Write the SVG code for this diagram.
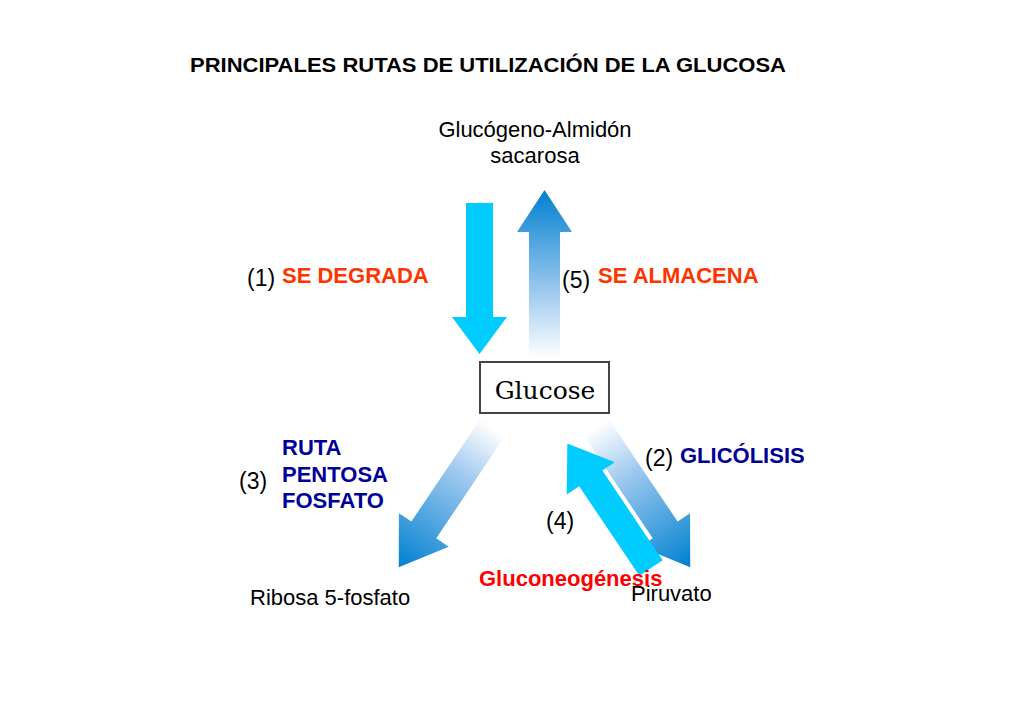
<svg xmlns="http://www.w3.org/2000/svg" width="1024" height="724" viewBox="0 0 1024 724">
<style>
text{font-family:"Liberation Sans",Arial,sans-serif;font-size:22px}
.p{font-size:23px}
.b{font-weight:bold}.r{fill:#ff3300}.db{fill:#000099}
</style>
<defs>
<linearGradient id="gd" x1="0" y1="0" x2="1" y2="0"><stop offset="0" stop-color="#ffffff"/><stop offset="0.35" stop-color="#9cc8ee"/><stop offset="1" stop-color="#0080d0"/></linearGradient>
<linearGradient id="gu" x1="0" y1="1" x2="0" y2="0"><stop offset="0" stop-color="#ffffff"/><stop offset="0.4" stop-color="#9cc8ee"/><stop offset="1" stop-color="#0080d0"/></linearGradient>
</defs>
<rect width="1024" height="724" fill="#fff"/>
<text x="190" y="72" class="b" textLength="596" lengthAdjust="spacingAndGlyphs" style="font-size:21px">PRINCIPALES RUTAS DE UTILIZACIÓN DE LA GLUCOSA</text>
<g id="glucogeno"><text x="535" y="137" text-anchor="middle">Glucógeno-Almidón</text><text x="535" y="163" text-anchor="middle">sacarosa</text></g>
<g id="glucose"><rect x="480" y="362" width="129" height="51" fill="#fff" stroke="#444" stroke-width="2"/><text x="545" y="399" text-anchor="middle" style="font-family:'DejaVu Serif','Liberation Serif',serif;font-size:25px">Glucose</text></g>
<g id="ribosa"><text x="250" y="605">Ribosa 5-fosfato</text></g>
<g id="piruvato"><text x="631" y="601">Piruvato</text></g>
<g id="connectors">
<path d="M466,203H493V317H507L479.5,354L452,317H466Z" fill="#00ccff"/>
<path d="M529,358V232H517L544.5,190L572,232H560V358Z" fill="url(#gu)"/>
<path transform="translate(493,427) rotate(123.9)" d="M0,-15H124V-30L169,0L124,30V15H0Z" fill="url(#gd)"/>
<path transform="translate(596,427) rotate(56.1)" d="M0,-15H124V-30L169,0L124,30V15H0Z" fill="url(#gd)"/>
<path transform="translate(651,568) rotate(-123.9)" d="M0,-14H108V-29L150,0L108,29V14H0Z" fill="#00ccff"/>
</g>
<g id="labels">
<text x="247" y="286" class="p">(1)</text><text x="282" y="283" class="b r">SE DEGRADA</text>
<text x="562" y="288" class="p">(5)</text><text x="598" y="283" class="b r">SE ALMACENA</text>
<text x="282" y="455" class="b db">RUTA</text><text x="282" y="482" class="b db">PENTOSA</text><text x="282" y="508" class="b db">FOSFATO</text>
<text x="239" y="489" class="p">(3)</text>
<text x="645" y="466" class="p">(2)</text><text x="680" y="463" class="b db">GLICÓLISIS</text>
<text x="546" y="529" class="p">(4)</text>
<text x="479" y="586" class="b" style="fill:#ff0000">Gluconeogénesis</text>
</g>
</svg>
